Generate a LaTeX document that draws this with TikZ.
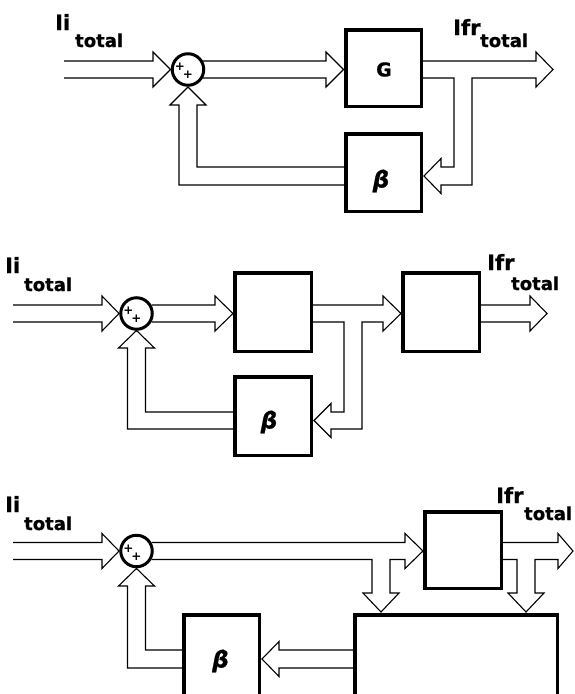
\documentclass[tikz,border=0pt]{standalone}
\usepackage{fontspec}
\setmainfont{DejaVu Sans}
\newfontfamily\heavy{DejaVu Sans}[FakeBold=0.9]
\begin{document}
\begin{tikzpicture}[x=1pt,y=-1pt,
  wire/.style={line width=1.1pt, line join=miter},
  blk/.style={draw, line width=3.5pt, inner sep=0pt, outer sep=0pt},
  summer/.style={draw, circle, line width=3pt, minimum size=31.5pt, inner sep=0pt},
  lbl/.style={inner sep=0pt, anchor=base west, font=\heavy\bfseries\fontsize{18}{18}\selectfont},
  big/.style={inner sep=0pt, anchor=base west, font=\heavy\bfseries\fontsize{21}{21}\selectfont},
  plus/.style={inner sep=0pt, font=\bfseries\fontsize{12}{12}\selectfont},
  gl/.style={inner sep=0pt, font=\heavy\bfseries\fontsize{19}{19}\selectfont},
  bl/.style={inner sep=0pt, font=\heavy\bfseries\itshape\fontsize{23}{23}\selectfont}]
\useasboundingbox (0,0) rectangle (574,694);
\clip (0,0) rectangle (574,694);

% ---------- diagram 1 ----------
\node[summer] (S1) at (188,69.5) {};
\node[plus] (S1p) at (180,67) {+};
\node[plus] (S1q) at (188,75) {+};
\node[blk, minimum width=75.5pt, minimum height=76.5pt] (G1) at (383.5,68) {};
\node[gl] (G1l) at (384,69.5) {G};
\node[blk, minimum width=75.5pt, minimum height=77.5pt] (B1) at (383.5,172.5) {};
\node[bl] (B1l) at (381,181) {β};
\node[big] (in1) at (55,30) {Ii};
\node[lbl] (in1s) at (75,47) {total};
\node[big] (out1) at (453,35) {Ifr};
\node[lbl] (out1s) at (480,47) {total};
\draw[wire] (64,61) -- (153,61) -- (153,52) -- (170.5,69.5) -- (153,87) -- (153,78) -- (64,78);
\draw[wire] (203,61) -- (326,61) -- (326,52) -- (343.5,69.5) -- (326,87) -- (326,78) -- (203,78);
\draw[wire] (423,61) -- (536,61) -- (536,52) -- (553,69.5) -- (536,87) -- (536,78) -- (472,78)
  -- (472,185) -- (441,185) -- (441,193.5) -- (424,176) -- (441,158.5) -- (441,167) -- (454,167)
  -- (454,78) -- (423,78);
\draw[wire] (344,167) -- (197,167) -- (197,105) -- (206,105) -- (188,87) -- (170,105) -- (179,105)
  -- (179,185) -- (344,185);

% ---------- diagram 2 ----------
\node[summer] (S2) at (136.5,313.5) {};
\node[plus] (S2p) at (128.5,311) {+};
\node[plus] (S2q) at (136.5,319) {+};
\node[blk, minimum width=76.5pt, minimum height=78.5pt] (A2) at (273,312) {};
\node[blk, minimum width=76.5pt, minimum height=78.5pt] (C2) at (441,312) {};
\node[blk, minimum width=76.5pt, minimum height=78.5pt] (B2) at (273,416) {};
\node[bl] (B2l) at (269,422) {β};
\node[big] (in2) at (5,273) {Ii};
\node[lbl] (in2s) at (24,291) {total};
\node[big] (out2) at (487,270) {Ifr};
\node[lbl] (out2s) at (511,290) {total};
\draw[wire] (13,305) -- (102,305) -- (102,296) -- (119,313.5) -- (102,331) -- (102,322) -- (13,322);
\draw[wire] (151.5,305) -- (215,305) -- (215,296) -- (233,313.5) -- (215,331) -- (215,322) -- (151.5,322);
\draw[wire] (313,305) -- (383,305) -- (383,296) -- (401,313.5) -- (383,331) -- (383,322) -- (362,322)
  -- (362,429) -- (331,429) -- (331,437.5) -- (314,420.5) -- (331,403.5) -- (331,412) -- (344,412)
  -- (344,322) -- (313,322);
\draw[wire] (481,305) -- (530,305) -- (530,296) -- (547,313.5) -- (530,331) -- (530,322) -- (481,322);
\draw[wire] (233,412) -- (145.5,412) -- (145.5,348) -- (154.5,348) -- (136.5,330.5) -- (118.5,348)
  -- (127.5,348) -- (127.5,429) -- (233,429);

% ---------- diagram 3 ----------
\node[summer] (S3) at (136.5,551) {};
\node[plus] (S3p) at (128.5,548.5) {+};
\node[plus] (S3q) at (136.5,556.5) {+};
\node[blk, minimum width=76.5pt, minimum height=76.5pt] (G3) at (463,550) {};
\node[blk, minimum width=75.5pt, minimum height=85.5pt] (B3) at (221.5,657.5) {};
\node[blk, minimum width=202.5pt, minimum height=85.5pt] (K3) at (456,657.5) {};
\node[bl] (B3l) at (220.5,661) {β};
\node[big] (in3) at (5,512) {Ii};
\node[lbl] (in3s) at (24,530) {total};
\node[big] (out3) at (496,503) {Ifr};
\node[lbl] (out3s) at (524,520) {total};
\draw[wire] (13,542.5) -- (102,542.5) -- (102,533.5) -- (119,551) -- (102,568.5) -- (102,559.5) -- (13,559.5);
\draw[wire] (151.5,542.5) -- (405,542.5) -- (405,533.5) -- (423,551) -- (405,568.5) -- (405,559.5)
  -- (390,559.5) -- (390,593) -- (399,593) -- (381,612) -- (363,593) -- (372,593) -- (372,559.5)
  -- (151.5,559.5);
\draw[wire] (503,542.5) -- (558,542.5) -- (558,533.5) -- (573,551) -- (558,568.5) -- (558,559.5)
  -- (535,559.5) -- (535,593) -- (544,593) -- (526,612) -- (508,593) -- (517,593) -- (517,559.5)
  -- (503,559.5);
\draw[wire] (353,650) -- (279,650) -- (279,641.5) -- (262,659) -- (279,676.5) -- (279,668) -- (353,668);
\draw[wire] (182,650) -- (145.5,650) -- (145.5,586) -- (154.5,586) -- (136.5,568.5) -- (118.5,586)
  -- (127.5,586) -- (127.5,668) -- (182,668);
\end{tikzpicture}
\end{document}
